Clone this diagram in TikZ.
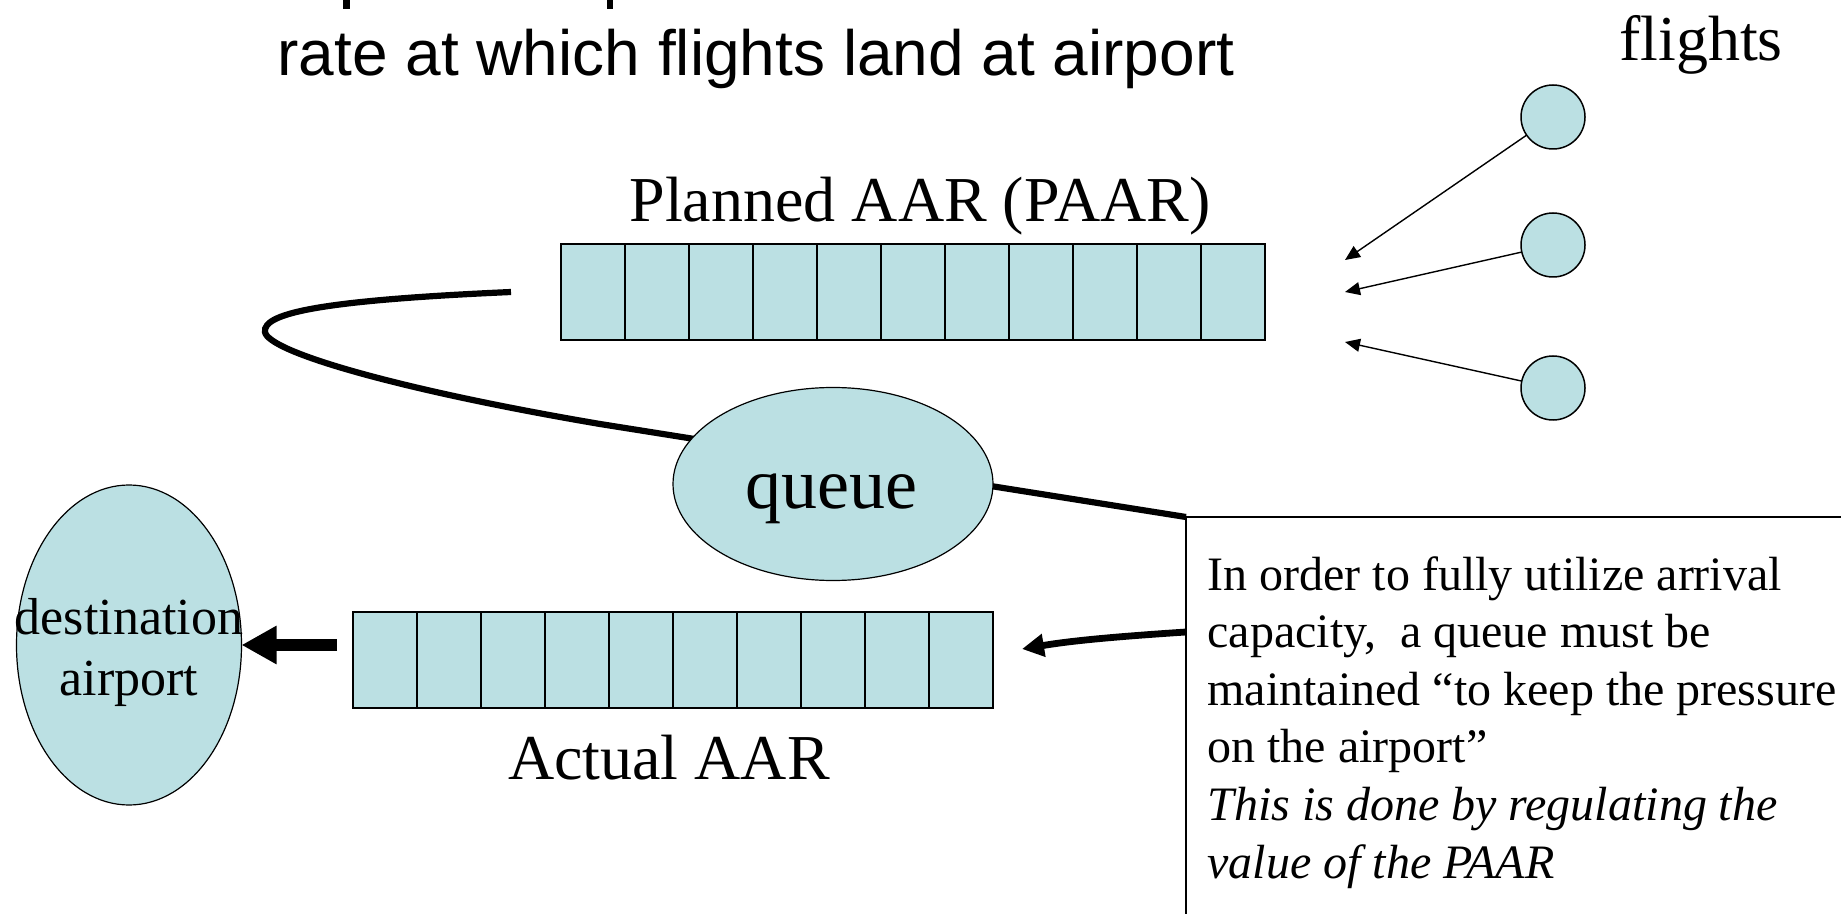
\documentclass[tikz,border=0pt]{standalone}
\usepackage{fontspec}
\setmainfont{Liberation Serif}
\newfontfamily\sansf{Liberation Sans}
\usetikzlibrary{arrows.meta,shapes.geometric,calc}
\definecolor{qblue}{RGB}{187,224,227}
\begin{document}
\begin{tikzpicture}[x=0.5pt,y=-0.5pt,
  lbl/.style={font=\fontsize{32}{38}\selectfont, anchor=base, inner sep=0},
  tbtext/.style={font=\fontsize{24}{28.8}\selectfont, anchor=base west, inner sep=0},
  cellbox/.style={draw, line width=1pt, fill=qblue, inner sep=0, outer sep=0, minimum height=48pt},
  divider/.style={line width=0.6pt},
  blob/.style={ellipse, draw, line width=0.6pt, fill=qblue, inner sep=0, outer sep=0},
  flight/.style={circle, draw, line width=0.75pt, fill=qblue, minimum size=32pt, inner sep=0, outer sep=0},
  thinarrow/.style={line width=0.7pt, -{Triangle[length=7.5pt,width=6.5pt]}},
  thickline/.style={line width=3.1pt}
]
\useasboundingbox (0,0) rectangle (1841,914);
\fill[white] (0,0) rectangle (1841,914);
% descenders of the cut-off line above
\fill (343,0) rectangle (350,9);
\fill (607,0) rectangle (613,9);
\node[font=\sansf\fontsize{32}{38}\selectfont, anchor=base, inner sep=0] (title) at (756,76) {rate at which flights land at airport};
% flights
\node[lbl] (flt) at (1701,61) {flights};
\node[flight] (f1) at (1553,117) {};
\node[flight] (f2) at (1553,245) {};
\node[flight] (f3) at (1553,388) {};
\coordinate (t1) at (1345,260);
\coordinate (t2) at (1345,292);
\coordinate (t3) at (1345,342);
\draw[thinarrow] (f1) -- (t1);
\draw[thinarrow] (f2) -- (t2);
\draw[thinarrow] (f3) -- (t3);
% planned AAR
\node[lbl] (plbl) at (920,222) {Planned AAR (PAAR)};
\node[cellbox, minimum width=352pt] (pbox) at (913,292) {};
\foreach \i in {1,...,10} \draw[divider] ([xshift=\i*32pt]pbox.north west) -- ([xshift=\i*32pt]pbox.south west);
% actual AAR
\node[cellbox, minimum width=320pt] (act) at (673,660) {};
\foreach \i in {1,...,9} \draw[divider] ([xshift=\i*32pt]act.north west) -- ([xshift=\i*32pt]act.south west);
\node[lbl] (albl) at (669,779) {Actual AAR};
% queue curve
\coordinate (tbc) at (1186,517);
\draw[thickline] ([xshift=-25pt]pbox.west) .. controls (330,300) and (262,312) .. (265,332)
   .. controls (268,352) and (400,390) .. (600,424) -- (tbc);
\node[blob, minimum width=160pt, minimum height=96.5pt] (q) at (833,484) {};
\node[font=\fontsize{36}{43}\selectfont, anchor=base, inner sep=0] (qt) at (831,508) {queue};
% destination
\node[blob, minimum width=112.5pt, minimum height=160pt] (dest) at (129,645) {};
\node[font=\fontsize{26}{31}\selectfont, anchor=base, inner sep=0] (d1) at (129,634) {destination};
\node[font=\fontsize{26}{31}\selectfont, anchor=base, inner sep=0] (d2) at (129,695) {airport};
\coordinate (s1) at (337,645);
\draw[line width=6pt, -{Triangle[length=17.5pt,width=18pt]}] (s1) -- (dest.east);
% text box
\node[draw, fill=white, line width=1pt, anchor=north west, inner sep=0, outer sep=0, minimum width=360pt, minimum height=240pt] (tb) at (tbc) {};
\node[tbtext] (l1) at (1207,590) {In order to fully utilize arrival};
\node[tbtext] (l2) at (1207,647.6) {capacity,\ \ a queue must be};
\node[tbtext] (l3) at (1207,705.2) {maintained “to keep the pressure};
\node[tbtext] (l4) at (1207,762.8) {on the airport”};
\node[tbtext] (l5) at (1207,820.4) {\itshape This is done by regulating the};
\node[tbtext] (l6) at (1207,878) {\itshape value of the PAAR};
\coordinate (t4) at (1022,649);
\draw[line width=3.4pt, -{Triangle[length=11pt,width=11pt]}] ([yshift=-57.5pt]tb.north west) .. controls (1110,637) and (1070,641) .. (t4);
\end{tikzpicture}
\end{document}
